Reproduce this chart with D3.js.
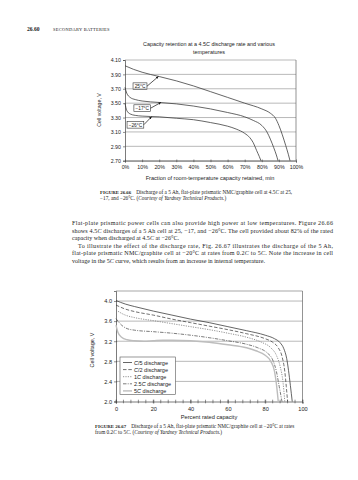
<!DOCTYPE html>
<html><head><meta charset="utf-8">
<script src="https://cdn.jsdelivr.net/npm/d3@7/dist/d3.min.js"></script>
<style>body{margin:0;background:#fff}svg{display:block}</style>
</head><body>
<svg id="page" width="358" height="480"></svg>
<script>
// ---------------- DATA ----------------
const pageNumber = "26.60";
const pageSection = "SECONDARY BATTERIES";

const fig1Title = ["Capacity retention at a 4.5*C* discharge rate and various", "temperatures"];
const fig1XTicks = [0,10,20,30,40,50,60,70,80,90,100];
const fig1YTicks = [2.70,2.90,3.10,3.30,3.50,3.70,3.90,4.10];
const fig1XTitle = "Fraction of room-temperature capacity retained, min";
const fig1YTitle = "Cell voltage, V";
const fig1Labels = ["25°C","−17°C","−26°C"];

const fig1X_25  = [0,5,10,20,30,40,50,60,70,80,85,88,90,92,94,95.5,96.5];
const fig1V_25  = [4.02,3.97,3.93,3.87,3.81,3.74,3.66,3.58,3.50,3.42,3.36,3.29,3.19,3.06,2.91,2.79,2.70];
const fig1X_m17 = [0,1,3,6,10,20,30,40,50,60,70,75,80,83,85,87,88.5,89.5];
const fig1V_m17 = [3.72,3.64,3.58,3.55,3.53,3.51,3.49,3.46,3.42,3.37,3.31,3.26,3.19,3.10,3.00,2.88,2.78,2.70];
const fig1X_m26 = [0,1,3,6,10,20,30,40,50,60,65,70,73,75,77,78.5,79.5];
const fig1V_m26 = [3.50,3.40,3.35,3.33,3.32,3.31,3.29,3.27,3.23,3.18,3.14,3.08,3.02,2.95,2.84,2.76,2.70];

// label boxes (left edge in %, centre in V) and arrow targets
const fig1BoxX = [4.7, 5.2, 1.2];
const fig1BoxV = [3.735, 3.43, 3.2];
const fig1ArrowX = [19.5, 21, 15.5];
const fig1ArrowV = [3.87, 3.51, 3.31];

const fig1Caption = [
  ["FIGURE 26.66", "Discharge of a 5 Ah, flat-plate prismatic NMC/graphite cell at 4.5*C* at 25,"],
  ["", "−17, and −26°C. (*Courtesy of Yardney Technical Products.*)"]
];

const paragraph = [
  "Flat-plate prismatic power cells can also provide high power at low temperatures. Figure 26.66",
  "shows 4.5*C* discharges of a 5 Ah cell at 25, −17, and −26°C. The cell provided about 82% of the rated",
  "capacity when discharged at 4.5*C* at −26°C.",
  "To illustrate the effect of the discharge rate, Fig. 26.67 illustrates the discharge of the 5 Ah,",
  "flat-plate prismatic NMC/graphite cell at −20°C at rates from 0.2*C* to 5*C*. Note the increase in cell",
  "voltage in the 5*C* curve, which results from an increase in internal temperature."
];
const paragraphJustify = [true, true, false, true, true, false];
const paragraphIndent = [false, false, false, true, false, false];

const fig2XTicks = [0,20,40,60,80,100];
const fig2XMinor = [0,4,8,12,16,20,24,28,32,36,40,44,48,52,56,60,64,68,72,76,80,84,88,92,96,100];
const fig2YTicks = [2.0,2.4,2.8,3.2,3.6,4.0];
const fig2XTitle = "Percent rated capacity";
const fig2YTitle = "Cell voltage, V";
const fig2Series = ["*C*/5 discharge","*C*/2 discharge","1*C* discharge","2.5*C* discharge","5*C* discharge"];

const fig2X_c5   = [0,5,10,20,30,40,50,60,70,80,85,88,90,91.5,92.5,93.5,94.5];
const fig2V_c5   = [4.01,3.94,3.89,3.80,3.72,3.64,3.57,3.49,3.41,3.32,3.25,3.17,3.05,2.86,2.62,2.32,2.00];
const fig2X_c2   = [0,5,10,20,30,40,50,60,70,80,84,87,89,90.5,91.3,92];
const fig2V_c2   = [3.92,3.84,3.79,3.72,3.64,3.57,3.50,3.43,3.35,3.25,3.18,3.07,2.90,2.60,2.30,2.00];
const fig2X_1c   = [0,5,10,20,30,40,50,60,70,78,83,86,88,89.5,90.5];
const fig2V_1c   = [3.82,3.72,3.67,3.61,3.55,3.49,3.43,3.36,3.28,3.18,3.07,2.92,2.70,2.40,2.00];
const fig2X_25c  = [0,3,6,10,20,30,40,50,60,70,76,81,84,86,87.5,89];
const fig2V_25c  = [3.65,3.52,3.45,3.42,3.39,3.36,3.32,3.27,3.21,3.14,3.07,2.97,2.83,2.60,2.30,2.00];
const fig2X_5c   = [0,1,3,6,10,15,20,25,30,40,50,60,70,75,80,83,85,86,87];
const fig2V_5c   = [3.52,3.38,3.28,3.23,3.21,3.20,3.21,3.22,3.22,3.21,3.18,3.13,3.07,3.01,2.92,2.80,2.60,2.35,2.00];

const fig2Caption = [
  ["FIGURE 26.67", "Discharge of a 5 Ah, flat-plate prismatic NMC/graphite cell at −20°C at rates"],
  ["", "from 0.2*C* to 5*C*. (*Courtesy of Yardney Technical Products.*)"]
];

// ---------------- HELPERS ----------------
const SANS = "'Liberation Sans', Arial, sans-serif";
const SERIF = "'Liberation Serif', 'Times New Roman', serif";
const INK = "#222";
const svg = d3.select("#page");

function rich(sel, str) {
  str.split("*").forEach((s, i) => {
    if (!s) return;
    const t = sel.append("tspan").text(s);
    if (i % 2 === 1) t.attr("font-style", "italic");
  });
  return sel;
}

// ---------------- HEADER ----------------
const hdr = svg.append("g").attr("font-family", SERIF).attr("fill", INK);
hdr.append("text").attr("x", 27).attr("y", 31).attr("font-size", 5.6).attr("font-weight", "bold").text(pageNumber);
hdr.append("text").attr("x", 53).attr("y", 31).attr("font-size", 4.5).attr("letter-spacing", 0.25).text(pageSection);

// ---------------- FIGURE 1 ----------------
const c1 = {l:125, r:296, t:60, b:160.7};
const x1 = d3.scaleLinear().domain([0,100]).range([c1.l, c1.r]);
const y1 = d3.scaleLinear().domain([2.7,4.1]).range([c1.b, c1.t]);
const g1 = svg.append("g").attr("font-family", SANS).attr("fill", INK);

fig1Title.forEach((t, i) => rich(g1.append("text").attr("x", 209).attr("y", 46 + i*8).attr("text-anchor","middle").attr("font-size", 5.4), t));

g1.append("g").selectAll("line").data(fig1YTicks).join("line")
  .attr("x1", c1.l).attr("x2", c1.r).attr("y1", d => y1(d)).attr("y2", d => y1(d))
  .attr("stroke", "#8a8a8a").attr("stroke-width", 0.6);
g1.append("line").attr("x1", c1.r).attr("x2", c1.r).attr("y1", c1.t).attr("y2", c1.b).attr("stroke", "#666").attr("stroke-width", 0.7);

const ax1 = g1.append("g").attr("transform", `translate(${c1.l},0)`)
  .call(d3.axisLeft(y1).tickValues(fig1YTicks).tickFormat(d3.format(".2f")).tickSize(2).tickPadding(2));
const bx1 = g1.append("g").attr("transform", `translate(0,${c1.b})`)
  .call(d3.axisBottom(x1).tickValues(fig1XTicks).tickFormat(d => d + "%").tickSize(2).tickPadding(3));
[ax1, bx1].forEach(a => {
  a.selectAll("path").attr("stroke", "#444").attr("stroke-width", 0.7);
  a.selectAll("line").attr("stroke", "#444").attr("stroke-width", 0.6);
  a.selectAll("text").attr("font-size", 5.3).attr("font-family", SANS).attr("fill", INK);
});
bx1.selectAll(".tick line").attr("y1", -1.2).attr("y2", 1.5);

g1.append("text").attr("x", 210).attr("y", 180).attr("text-anchor","middle").attr("font-size", 5.6).text(fig1XTitle);
g1.append("text").attr("transform", `translate(101,110) rotate(-90)`).attr("text-anchor","middle").attr("font-size", 5.2).text(fig1YTitle);

const line1 = d3.line().x(d => x1(d[0])).y(d => y1(d[1])).curve(d3.curveMonotoneX);
[[fig1X_25, fig1V_25],[fig1X_m17, fig1V_m17],[fig1X_m26, fig1V_m26]].forEach(([xs, vs]) => {
  g1.append("path").attr("d", line1(d3.zip(xs, vs))).attr("fill","none").attr("stroke","#333").attr("stroke-width",0.75);
});

svg.append("defs").append("marker").attr("id","ah").attr("viewBox","0 0 10 10").attr("refX",9).attr("refY",5)
  .attr("markerWidth",4).attr("markerHeight",4).attr("orient","auto")
  .append("path").attr("d","M0,1 L10,5 L0,9 z").attr("fill","#111");

fig1Labels.forEach((lab, i) => {
  const bx = x1(fig1BoxX[i]), cy = y1(fig1BoxV[i]);
  const t = g1.append("text").attr("x", bx + 1.6).attr("y", cy + 1.8).attr("font-size", 4.8).text(lab);
  const w = t.node().getComputedTextLength() + 3.2;
  g1.insert("rect", "text").attr("x", bx).attr("y", cy - 3.4).attr("width", w).attr("height", 6.8)
    .attr("fill","#fff").attr("stroke","#333").attr("stroke-width",0.6);
  g1.append("line").attr("x1", bx + w).attr("y1", cy).attr("x2", x1(fig1ArrowX[i])).attr("y2", y1(fig1ArrowV[i]))
    .attr("stroke","#111").attr("stroke-width",0.7).attr("marker-end","url(#ah)");
});

// caption
function caption(lines, x, y0, dy) {
  const g = svg.append("g").attr("font-family", SERIF).attr("fill", INK);
  lines.forEach((ln, i) => {
    const t = g.append("text").attr("x", x).attr("y", y0 + i*dy).attr("font-size", 5.3);
    if (ln[0]) t.append("tspan").attr("font-weight","bold").attr("font-size",4.9).text(ln[0] + "\u2003");
    rich(t, ln[1]);
  });
}
caption(fig1Caption, 100, 193.5, 6.2);

// paragraph
const pg = svg.append("g").attr("font-family", SERIF).attr("fill", INK);
paragraph.forEach((ln, i) => {
  const x = paragraphIndent[i] ? 78 : 72;
  const t = pg.append("text").attr("x", x).attr("y", 225 + i*7.6).attr("font-size", 6.1);
  rich(t, ln);
  if (paragraphJustify[i]) t.attr("textLength", 333 - x).attr("lengthAdjust", "spacing");
});

// ---------------- FIGURE 2 ----------------
const c2 = {l:116, r:302.5, t:291, b:401.5};
const x2 = d3.scaleLinear().domain([0,100]).range([c2.l, c2.r]);
const y2 = d3.scaleLinear().domain([2.0,4.2]).range([c2.b, c2.t]);
const g2 = svg.append("g").attr("font-family", SANS).attr("fill", INK);

g2.append("g").selectAll("line").data(fig2YTicks.slice(1)).join("line")
  .attr("x1", c2.l).attr("x2", c2.r).attr("y1", d => y2(d)).attr("y2", d => y2(d))
  .attr("stroke", "#8a8a8a").attr("stroke-width", 0.6);
g2.append("line").attr("x1", c2.l).attr("x2", c2.r).attr("y1", y2(4.2)).attr("y2", y2(4.2)).attr("stroke","#c4c4c4").attr("stroke-width",1.6);
g2.append("line").attr("x1", c2.r).attr("x2", c2.r).attr("y1", y2(4.2)).attr("y2", c2.b).attr("stroke","#666").attr("stroke-width",0.7);

const ax2 = g2.append("g").attr("transform", `translate(${c2.l},0)`)
  .call(d3.axisLeft(y2).tickValues(fig2YTicks).tickFormat(d3.format(".1f")).tickSize(2).tickPadding(2));
const bx2 = g2.append("g").attr("transform", `translate(0,${c2.b})`)
  .call(d3.axisBottom(x2).tickValues(fig2XTicks).tickFormat(d3.format("d")).tickSize(2).tickPadding(3.5));
g2.append("g").selectAll("line").data(fig2XMinor).join("line")
  .attr("x1", d => x2(d)).attr("x2", d => x2(d)).attr("y1", c2.b - 1.8).attr("y2", c2.b + 1.8)
  .attr("stroke","#444").attr("stroke-width",0.6);
[ax2, bx2].forEach(a => {
  a.selectAll("path").attr("stroke", "#444").attr("stroke-width", 0.7);
  a.selectAll("line").attr("stroke", "#444").attr("stroke-width", 0.6);
  a.selectAll("text").attr("font-size", 5.6).attr("font-family", SANS).attr("fill", INK);
});
ax2.selectAll(".tick line").attr("x1", 1.2);
bx2.selectAll(".tick line").attr("y1", -1.8);

g2.append("text").attr("x", 209).attr("y", 418.5).attr("text-anchor","middle").attr("font-size", 5.7).text(fig2XTitle);
g2.append("text").attr("transform", `translate(93.5,350) rotate(-90)`).attr("text-anchor","middle").attr("font-size", 5.4).text(fig2YTitle);

const fig2Style = [
  {stroke:"#333", w:0.75, dash:null},
  {stroke:"#333", w:0.7, dash:"3.5,1.8"},
  {stroke:"#777", w:0.8, dash:"1.2,1.2"},
  {stroke:"#444", w:0.7, dash:"3.5,1.2,1,1.2"},
  {stroke:"#bdbdbd", w:1.4, dash:null}
];
const line2 = d3.line().x(d => x2(d[0])).y(d => y2(d[1])).curve(d3.curveMonotoneX);
[[fig2X_c5,fig2V_c5],[fig2X_c2,fig2V_c2],[fig2X_1c,fig2V_1c],[fig2X_25c,fig2V_25c],[fig2X_5c,fig2V_5c]].forEach(([xs, vs], i) => {
  g2.append("path").attr("d", line2(d3.zip(xs, vs))).attr("fill","none")
    .attr("stroke", fig2Style[i].stroke).attr("stroke-width", fig2Style[i].w)
    .attr("stroke-dasharray", fig2Style[i].dash);
});

// legend
const lg = g2.append("g");
lg.append("rect").attr("x", 120).attr("y", 357).attr("width", 55.5).attr("height", 37.5)
  .attr("fill","#fff").attr("stroke","#555").attr("stroke-width",0.6);
fig2Series.forEach((s, i) => {
  const yy = 362.5 + i*7.1;
  lg.append("line").attr("x1", 123).attr("x2", 132).attr("y1", yy).attr("y2", yy)
    .attr("stroke", fig2Style[i].stroke).attr("stroke-width", fig2Style[i].w)
    .attr("stroke-dasharray", fig2Style[i].dash);
  rich(lg.append("text").attr("x", 134).attr("y", yy + 2).attr("font-size", 5.5), s);
});

caption(fig2Caption, 95, 428, 6.2);
</script>
</body></html>
